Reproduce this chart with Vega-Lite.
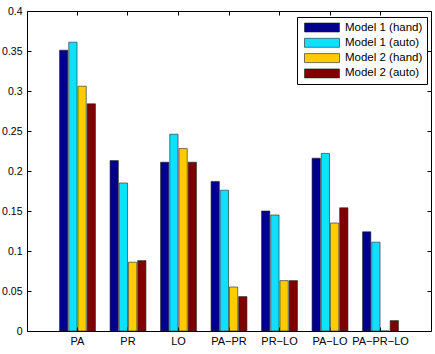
{
  "$schema": "https://vega.github.io/schema/vega-lite/v6.json",
  "autosize": "none",
  "width": 404,
  "height": 320,
  "padding": {"left": 27, "top": 11, "right": 4, "bottom": 23},
  "background": "white",
  "data": {
    "values": [
      {"pair": "PA", "model": "Model 1 (hand)", "score": 0.351},
      {"pair": "PA", "model": "Model 1 (auto)", "score": 0.361},
      {"pair": "PA", "model": "Model 2 (hand)", "score": 0.306},
      {"pair": "PA", "model": "Model 2 (auto)", "score": 0.284},
      {"pair": "PR", "model": "Model 1 (hand)", "score": 0.213},
      {"pair": "PR", "model": "Model 1 (auto)", "score": 0.185},
      {"pair": "PR", "model": "Model 2 (hand)", "score": 0.086},
      {"pair": "PR", "model": "Model 2 (auto)", "score": 0.088},
      {"pair": "LO", "model": "Model 1 (hand)", "score": 0.211},
      {"pair": "LO", "model": "Model 1 (auto)", "score": 0.246},
      {"pair": "LO", "model": "Model 2 (hand)", "score": 0.228},
      {"pair": "LO", "model": "Model 2 (auto)", "score": 0.211},
      {"pair": "PA−PR", "model": "Model 1 (hand)", "score": 0.187},
      {"pair": "PA−PR", "model": "Model 1 (auto)", "score": 0.176},
      {"pair": "PA−PR", "model": "Model 2 (hand)", "score": 0.055},
      {"pair": "PA−PR", "model": "Model 2 (auto)", "score": 0.043},
      {"pair": "PR−LO", "model": "Model 1 (hand)", "score": 0.150},
      {"pair": "PR−LO", "model": "Model 1 (auto)", "score": 0.145},
      {"pair": "PR−LO", "model": "Model 2 (hand)", "score": 0.063},
      {"pair": "PR−LO", "model": "Model 2 (auto)", "score": 0.063},
      {"pair": "PA−LO", "model": "Model 1 (hand)", "score": 0.216},
      {"pair": "PA−LO", "model": "Model 1 (auto)", "score": 0.222},
      {"pair": "PA−LO", "model": "Model 2 (hand)", "score": 0.135},
      {"pair": "PA−LO", "model": "Model 2 (auto)", "score": 0.154},
      {"pair": "PA−PR−LO", "model": "Model 1 (hand)", "score": 0.124},
      {"pair": "PA−PR−LO", "model": "Model 1 (auto)", "score": 0.111},
      {"pair": "PA−PR−LO", "model": "Model 2 (hand)", "score": 0.0},
      {"pair": "PA−PR−LO", "model": "Model 2 (auto)", "score": 0.013}
    ]
  },
  "layer": [
    {
      "mark": {"type": "bar", "stroke": "#222", "strokeWidth": 0.6},
      "encoding": {
        "x": {
          "field": "pair",
          "type": "nominal",
          "sort": null,
          "scale": {"paddingInner": 0.2713, "paddingOuter": 0.6356},
          "axis": {"orient": "bottom", "title": null, "labelAngle": 0, "labelPadding": 8, "labelFontSize": 11}
        },
        "xOffset": {
          "field": "model",
          "type": "nominal",
          "scale": {
            "domain": ["Model 1 (hand)", "Model 1 (auto)", "Model 2 (hand)", "Model 2 (auto)"],
            "paddingInner": 0.1,
            "paddingOuter": 0.05
          }
        },
        "y": {
          "field": "score",
          "type": "quantitative",
          "scale": {"domain": [0, 0.4], "nice": false, "zero": true},
          "axis": {
            "orient": "left",
            "title": null,
            "values": [0, 0.05, 0.1, 0.15, 0.2, 0.25, 0.3, 0.35, 0.4],
            "format": "~g",
            "labelPadding": 9
          }
        },
        "color": {
          "field": "model",
          "type": "nominal",
          "scale": {
            "domain": ["Model 1 (hand)", "Model 1 (auto)", "Model 2 (hand)", "Model 2 (auto)"],
            "range": ["#00008C", "#10E0FF", "#FFCC00", "#7F0000"]
          },
          "legend": {"title": null}
        }
      }
    },
    {
      "mark": {"type": "bar", "opacity": 0},
      "encoding": {
        "x": {
          "field": "pair",
          "type": "nominal",
          "sort": null,
          "axis": {"orient": "top", "title": null, "labels": false}
        },
        "xOffset": {"field": "model", "type": "nominal"},
        "y": {
          "field": "score",
          "type": "quantitative",
          "axis": {
            "orient": "right",
            "title": null,
            "labels": false,
            "values": [0, 0.05, 0.1, 0.15, 0.2, 0.25, 0.3, 0.35, 0.4]
          }
        }
      }
    }
  ],
  "resolve": {"axis": {"x": "independent", "y": "independent"}},
  "config": {
    "view": {"stroke": "black", "strokeWidth": 1},
    "axis": {
      "domain": false,
      "grid": false,
      "ticks": true,
      "tickSize": -4,
      "tickColor": "black",
      "tickWidth": 1,
      "labelFont": "Liberation Sans",
      "labelFontSize": 10.5,
      "labelColor": "black"
    },
    "legend": {
      "orient": "none",
      "legendX": 270,
      "legendY": 6,
      "fillColor": "white",
      "strokeColor": "black",
      "strokeWidth": 1,
      "padding": 4,
      "symbolType": "M-1,-0.257H1V0.257H-1Z",
      "symbolSize": 1225,
      "symbolStrokeColor": "#222",
      "symbolStrokeWidth": 0.6,
      "symbolOffset": 3,
      "labelFont": "Liberation Sans",
      "labelFontSize": 11.5,
      "labelColor": "black",
      "labelOffset": 5,
      "clipHeight": 13,
      "rowPadding": 2.3
    }
  }
}
